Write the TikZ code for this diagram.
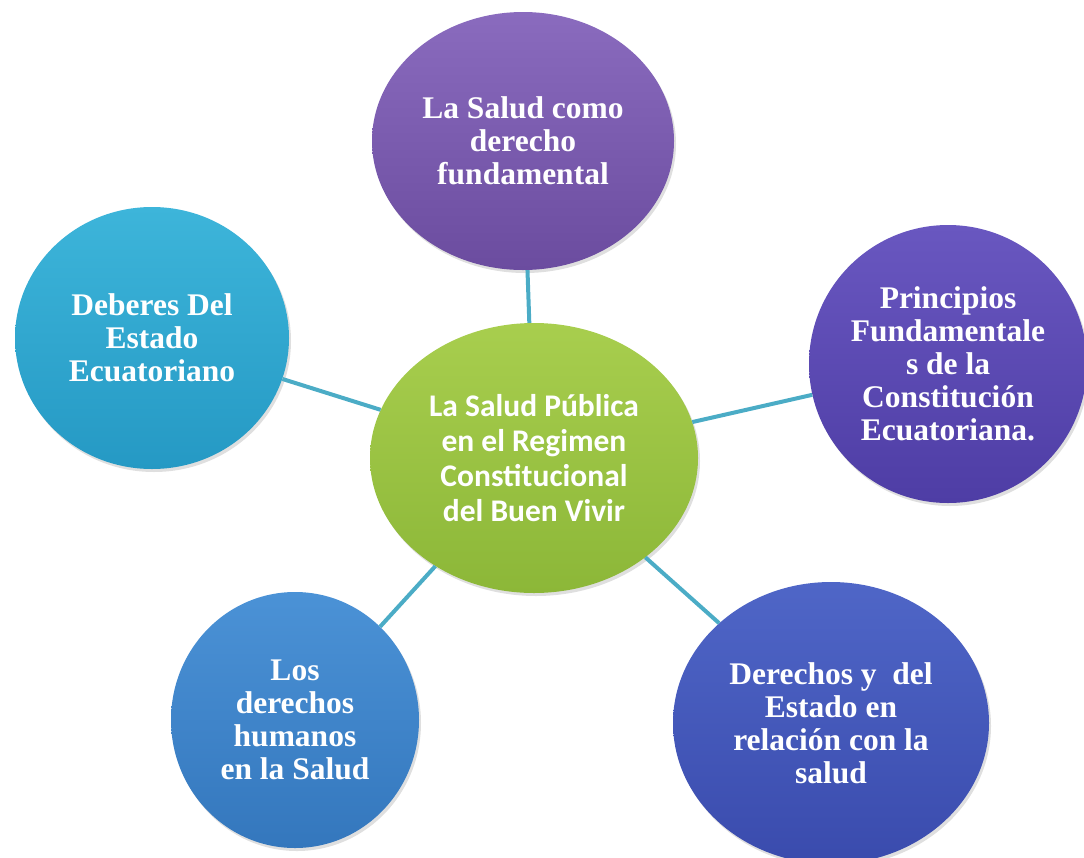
\documentclass[tikz,border=0pt]{standalone}
\usepackage{fontspec}
\setmainfont{Liberation Serif}
\newfontfamily\calibrifont{Carlito}
\usetikzlibrary{shapes.geometric,shadows}

\definecolor{linkcol}{HTML}{4BACC6}
\definecolor{greentop}{HTML}{A8CE4E}
\definecolor{greenbot}{HTML}{8CB738}
\definecolor{violtop}{HTML}{8A6BBE}
\definecolor{violbot}{HTML}{6B4C9F}
\definecolor{cyantop}{HTML}{3DB5DA}
\definecolor{cyanbot}{HTML}{2599C4}
\definecolor{indigotop}{HTML}{6957C0}
\definecolor{indigobot}{HTML}{4E3DA5}
\definecolor{bluetop}{HTML}{4B92D6}
\definecolor{bluebot}{HTML}{3477BD}
\definecolor{navytop}{HTML}{4F66C7}
\definecolor{navybot}{HTML}{3A4BAD}

\begin{document}
\begin{tikzpicture}[x=1pt,y=-1pt,
    bubble/.style={ellipse,inner sep=0pt,text=white,align=center,
      font=\bfseries\fontsize{31.5}{33}\selectfont,
      drop shadow={opacity=0.25,shadow xshift=2pt,shadow yshift=-3pt}},
    hubbubble/.style={bubble,font=\calibrifont\bfseries\fontsize{31.5}{35}\selectfont},
    link/.style={draw=linkcol,line width=4pt}]
  \useasboundingbox (0,0) rectangle (1084,857);

  \node[hubbubble,top color=greentop,bottom color=greenbot,
    minimum width=328,minimum height=270] (hub) at (534,458)
    {La Salud Pública\\en el Regimen\\Constitucional\\del Buen Vivir};

  \node[bubble,top color=violtop,bottom color=violbot,
    minimum width=302,minimum height=258] (salud) at (523,141)
    {La Salud como\\derecho\\fundamental};
  \node[bubble,top color=cyantop,bottom color=cyanbot,
    minimum width=274,minimum height=262] (deberes) at (152,338)
    {Deberes Del\\Estado\\Ecuatoriano};
  \node[bubble,top color=indigotop,bottom color=indigobot,
    minimum width=278,minimum height=278] (principios) at (948,364)
    {Principios\\Fundamentale\\s de la\\Constitución\\Ecuatoriana.};
  \node[bubble,top color=bluetop,bottom color=bluebot,
    minimum width=248,minimum height=256] (humanos) at (295,720)
    {Los\\derechos\\humanos\\en la Salud};
  \node[bubble,top color=navytop,bottom color=navybot,
    minimum width=316,minimum height=282] (estado) at (831,723)
    {Derechos y~ del\\Estado en\\relación con la\\salud};

  % connectors
  \foreach \n in {salud,deberes,principios,humanos,estado}
    \draw[link] (hub) -- (\n);
\end{tikzpicture}
\end{document}
